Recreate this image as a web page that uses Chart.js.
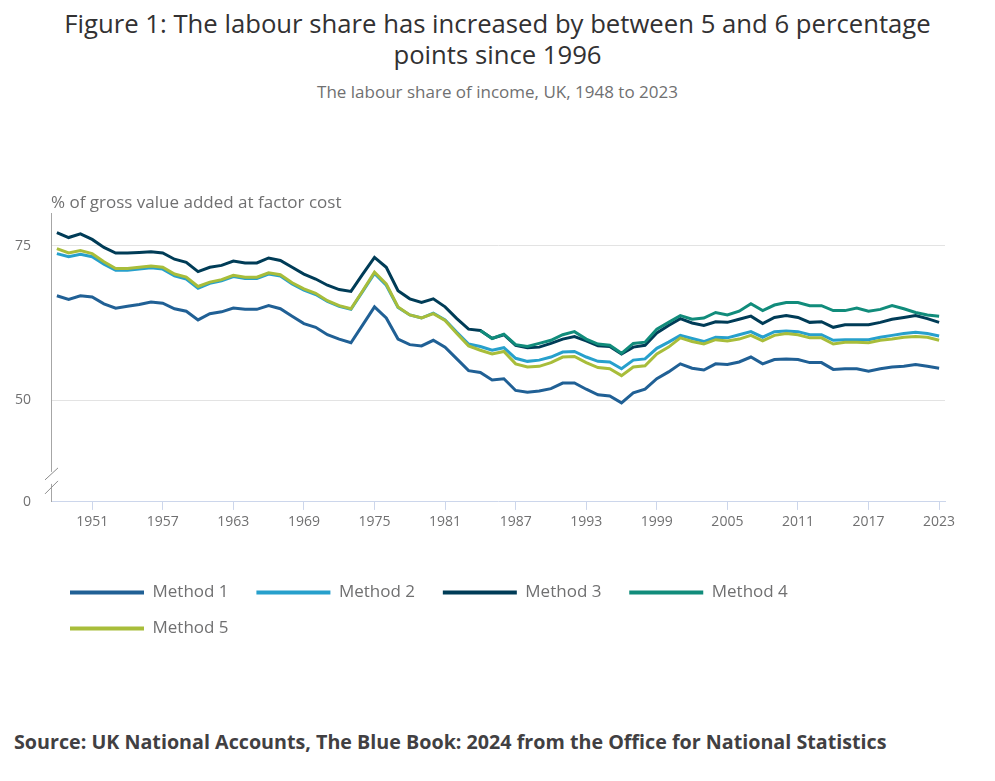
<!DOCTYPE html>
<html>
<head>
<meta charset="utf-8">
<script src="https://cdn.jsdelivr.net/npm/chart.js@4.4.1/dist/chart.umd.min.js"></script>
<style>
  body { margin: 0; background: #fff; font-family: "Open Sans", sans-serif; }
  #page { position: relative; width: 995px; height: 781px; overflow: hidden; }
  #title { position: absolute; top: 8px; left: 0; width: 995px; text-align: center;
           font-size: 25.7px; line-height: 31px; color: #323132; }
  #subtitle { position: absolute; top: 81px; left: 0; width: 995px; text-align: center;
              font-size: 17px; line-height: 22px; color: #707071; }
  #chart { position: absolute; top: 185px; left: 0; }
  #source { position: absolute; top: 730px; left: 14px; font-size: 19.7px; line-height: 24px;
            font-weight: bold; color: #414042; }
</style>
</head>
<body>
<div id="page">
  <div id="title">Figure 1: The labour share has increased by between 5 and 6 percentage<br>points since 1996</div>
  <div id="subtitle">The labour share of income, UK, 1948 to 2023</div>
  <canvas id="chart" width="960" height="462"></canvas>
  <div id="source">Source: UK National Accounts, The Blue Book: 2024 from the Office for National Statistics</div>
</div>
<script>
// ================================
// DATA
// ================================
const years = [];
for (let y = 1948; y <= 2023; y++) years.push(String(y));

const method1 = [
  66.9, 66.3, 66.9, 66.7, 65.6, 64.9, 65.2, 65.5, 65.9, 65.7, 64.8, 64.4, 63.0,
  64.0, 64.3, 64.9, 64.7, 64.7, 65.3, 64.8, 63.6, 62.4, 61.8, 60.6, 59.9,
  59.3, 62.2, 65.1, 63.3, 59.9, 59.0, 58.8, 59.7, 58.6, 56.7, 54.8, 54.5,
  53.3, 53.5, 51.6, 51.3, 51.5, 51.9, 52.8, 52.8, 51.8, 50.9, 50.7, 49.6, 51.2,
  51.8, 53.5, 54.6, 55.9, 55.2, 54.9, 55.9, 55.8, 56.2, 57.0, 55.9, 56.6,
  56.7, 56.6, 56.1, 56.1, 55.0, 55.1, 55.1, 54.7, 55.1, 55.4, 55.5, 55.8, 55.5, 55.2
];
const method2 = [
  73.7, 73.2, 73.6, 73.2, 72.0, 71.0, 71.0, 71.2, 71.4, 71.2, 70.1, 69.6, 68.1,
  68.9, 69.3, 70.0, 69.7, 69.7, 70.4, 70.1, 68.8, 67.8, 67.1, 66.0, 65.2,
  64.7, 67.6, 70.5, 68.6, 65.0, 63.8, 63.3, 64.1, 63.0, 61.0, 59.1, 58.7,
  58.1, 58.5, 56.8, 56.3, 56.5, 57.0, 57.8, 57.9, 57.0, 56.3, 56.2, 55.1, 56.5,
  56.7, 58.4, 59.4, 60.5, 60.0, 59.5, 60.2, 60.1, 60.6, 61.1, 60.2, 61.1,
  61.2, 61.1, 60.6, 60.6, 59.7, 59.8, 59.8, 59.8, 60.2, 60.5, 60.8, 61.0, 60.8, 60.4
];
const method3 = [
  77.1, 76.3, 76.9, 76.0, 74.7, 73.8, 73.8, 73.9, 74.0, 73.8, 72.8, 72.3, 70.8,
  71.5, 71.8, 72.5, 72.2, 72.2, 73.0, 72.6, 71.5, 70.4, 69.6, 68.6, 67.9,
  67.6, 70.4, 73.1, 71.5, 67.7, 66.4, 65.8, 66.4, 65.1, 63.2, 61.5, 61.3,
  60.0, 60.6, 58.9, 58.5, 58.6, 59.2, 59.9, 60.3, 59.6, 58.8, 58.7, 57.5, 58.6,
  58.9, 60.9, 62.1, 63.2, 62.5, 62.1, 62.7, 62.6, 63.1, 63.6, 62.4, 63.4,
  63.7, 63.4, 62.6, 62.7, 61.8, 62.2, 62.2, 62.2, 62.6, 63.1, 63.4, 63.7, 63.2, 62.6
];
// Method 4 only starts in 1984
const method4 = [
  null, null, null, null, null, null, null, null, null, null, null, null, null,
  null, null, null, null, null, null, null, null, null, null, null, null,
  null, null, null, null, null, null, null, null, null, null, null, 61.3,
  60.0, 60.7, 59.0, 58.7, 59.2, 59.7, 60.6, 61.1, 59.9, 59.1, 58.9, 57.6, 59.2,
  59.4, 61.5, 62.6, 63.7, 63.1, 63.3, 64.2, 63.8, 64.4, 65.6, 64.5, 65.4,
  65.8, 65.8, 65.3, 65.3, 64.5, 64.5, 64.9, 64.4, 64.7, 65.3, 64.8, 64.2, 63.8, 63.6
];
const method5 = [
  74.5, 73.8, 74.2, 73.7, 72.4, 71.3, 71.3, 71.5, 71.7, 71.5, 70.4, 69.9, 68.4,
  69.1, 69.5, 70.2, 69.9, 69.9, 70.6, 70.3, 69.0, 68.0, 67.3, 66.1, 65.3,
  64.8, 67.7, 70.7, 68.8, 65.1, 63.8, 63.3, 64.0, 62.9, 60.8, 58.8, 58.1,
  57.5, 57.9, 55.9, 55.4, 55.5, 56.1, 57.0, 57.1, 56.1, 55.3, 55.1, 54.0, 55.4,
  55.6, 57.5, 58.6, 60.1, 59.5, 59.1, 59.8, 59.6, 59.9, 60.5, 59.6, 60.5,
  60.8, 60.6, 60.1, 60.1, 59.1, 59.4, 59.4, 59.3, 59.7, 59.9, 60.2, 60.3, 60.2, 59.7
];

const seriesNames = ["Method 1", "Method 2", "Method 3", "Method 4", "Method 5"];
const seriesData = [method1, method2, method3, method4, method5];
const seriesColors = ["#206095", "#27a0cc", "#003c57", "#118c7b", "#a8bd3a"];

// axis: broken y axis, bottom of the axis is labelled 0
const yMin = 33.6;
const yMax = 80.2;
const yTicks = [50, 75];
const firstLabelYear = 1951;
const labelEvery = 6;

// ================================
// AXIS BREAK MARK
// ================================
const axisBreak = {
  id: "axisBreak",
  afterDraw(chart) {
    const { ctx } = chart;
    const y = chart.scales.y;
    const x = y.right;
    const b = y.bottom;
    ctx.save();
    ctx.fillStyle = "#fff";
    ctx.fillRect(x - 2, b - 30, 4, 12);
    ctx.strokeStyle = "#8c8c8c";
    ctx.lineWidth = 1;
    ctx.beginPath();
    ctx.moveTo(x - 6, b - 22);
    ctx.lineTo(x + 7, b - 34);
    ctx.moveTo(x - 6, b - 8);
    ctx.lineTo(x + 7, b - 21);
    ctx.stroke();
    ctx.restore();
  },
};

// ================================
// CHART
// ================================
const greyText = "#707071";

new Chart(document.getElementById("chart"), {
  type: "line",
  data: {
    labels: years,
    datasets: seriesNames.map((name, i) => ({
      label: name,
      data: seriesData[i],
      borderColor: seriesColors[i],
      backgroundColor: seriesColors[i],
      borderWidth: 3,
      pointRadius: 0,
      tension: 0,
      order: seriesNames.length - i,
    })),
  },
  options: {
    responsive: false,
    animation: false,
    layout: { padding: { left: 15, right: 15, top: 0, bottom: 0 } },
    plugins: {
      tooltip: { enabled: false },
      title: {
        display: true,
        text: "% of gross value added at factor cost",
        align: "start",
        fullSize: false,
        color: greyText,
        font: { family: "Open Sans", size: 17, weight: "normal" },
        padding: { top: 3, bottom: 0 },
      },
      legend: {
        position: "bottom",
        align: "start",
        fullSize: false,
        labels: {
          boxWidth: 74,
          boxHeight: 4,
          padding: 19,
          color: greyText,
          font: { family: "Open Sans", size: 17 },
          sort: (a, b) => a.datasetIndex - b.datasetIndex,
          generateLabels: (chart) => {
            const items = Chart.defaults.plugins.legend.labels.generateLabels(chart);
            items.forEach((it) => {
              it.lineWidth = 0;
              it.text = it.text + "  ";
            });
            return items;
          },
        },
      },
    },
    scales: {
      x: {
        offset: true,
        grid: {
          offset: false,
          drawOnChartArea: false,
          color: "#ccd6eb",
          tickLength: 8,
        },
        border: { color: "#ccd6eb" },
        ticks: {
          autoSkip: false,
          maxRotation: 0,
          padding: 4,
          color: greyText,
          font: { family: "Open Sans", size: 14 },
        },
        afterBuildTicks: (scale) => {
          scale.ticks = scale.ticks.filter(
            (t) => (Number(years[t.value]) - firstLabelYear) % labelEvery === 0
          );
        },
        afterFit: (scale) => {
          scale.height += 30.3;
        },
      },
      y: {
        min: yMin,
        max: yMax,
        afterBuildTicks: (scale) => {
          scale.ticks = [{ value: yMin }].concat(yTicks.map((v) => ({ value: v })));
        },
        afterFit: (scale) => {
          scale.width = 36;
        },
        grid: {
          drawTicks: false,
          color: (c) => (c.tick && c.tick.value === yMin ? "rgba(0,0,0,0)" : "#e3e3e3"),
        },
        border: { color: "#a6a6a6" },
        ticks: {
          padding: 20,
          color: greyText,
          font: { family: "Open Sans", size: 14 },
          callback: (v) => (v === yMin ? "0" : v),
        },
      },
    },
  },
  plugins: [axisBreak],
});
</script>
</body>
</html>
